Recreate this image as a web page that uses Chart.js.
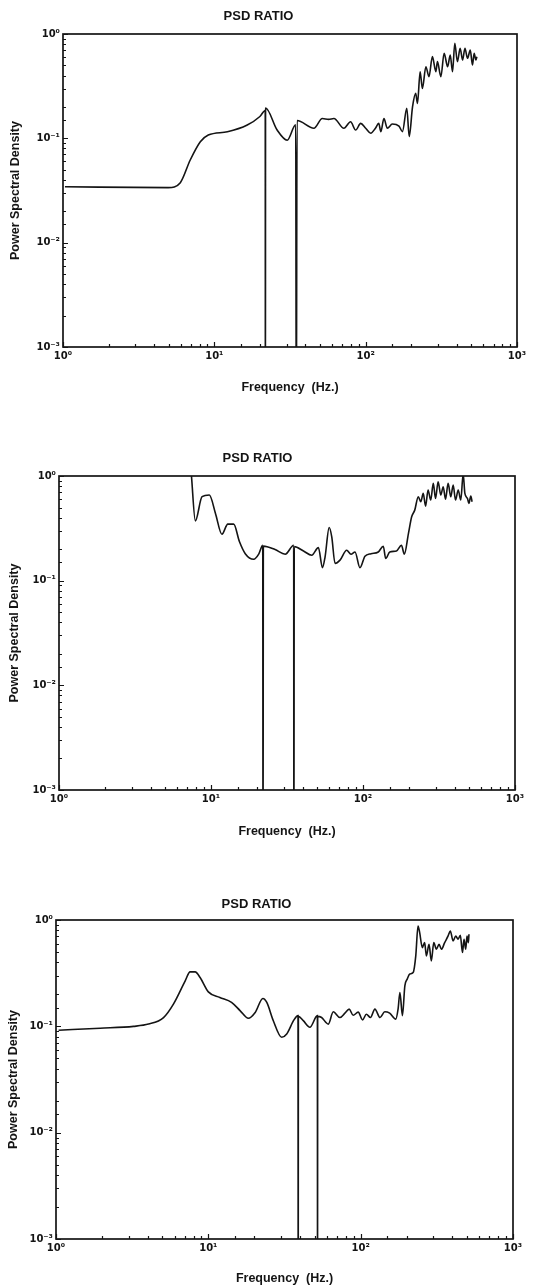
<!DOCTYPE html>
<html>
<head>
<meta charset="utf-8">
<script src="https://cdn.jsdelivr.net/npm/chart.js@4.4.1/dist/chart.umd.min.js"></script>
<style>
  html, body { margin: 0; padding: 0; background: #fff; }
  body { width: 557px; height: 1288px; position: relative; overflow: hidden; }
  canvas { position: absolute; left: 0; }
</style>
</head>
<body>
<canvas id="c1" width="557" height="400" style="top:0px"></canvas>
<canvas id="c2" width="557" height="424" style="top:420px"></canvas>
<canvas id="c3" width="557" height="428" style="top:860px"></canvas>
<script>
// ---------- texts ----------
const chartTitle = 'PSD RATIO';
const xTitle = 'Frequency  (Hz.)';
const yTitle = 'Power Spectral Density';

// ---------- axis ranges & tick labels ----------
const xRange = [1, 1000];
const yRange = [0.001, 1];
const xTickLabels = ['10\u2070', '10\u00b9', '10\u00b2', '10\u00b3'];          // exponents 0..3
const yTickLabels = ['10\u207b\u00b3', '10\u207b\u00b2', '10\u207b\u00b9', '10\u2070']; // exponents -3..0

// ---------- chart 1 data ----------
const freq1 = [1.03, 4.96, 5.96, 6.93, 8.08, 9.12, 12.2, 16.5, 20.0, 21.7, 21.75, 21.8, 26.0, 30.3, 34.5, 34.8, 35.2,
  45.5, 51.7, 56.9, 61.7, 71.8, 79.5, 85.9, 92.7, 100, 108, 116, 122, 126, 132, 139, 150, 166, 175, 187, 194,
  204, 214, 220, 229, 237, 250, 262, 276, 291, 298, 314, 330, 348, 362, 375, 388, 404, 421, 437, 453, 471,
  491, 508, 521, 535, 543];
const psd1 = [0.0343, 0.0337, 0.0376, 0.062, 0.0927, 0.1076, 0.1156, 0.134, 0.162, 0.185, 0.0001, 0.195, 0.12, 0.096, 0.135, 0.0001, 0.148,
  0.125, 0.155, 0.152, 0.155, 0.125, 0.144, 0.12, 0.139, 0.125, 0.112, 0.125, 0.139, 0.116, 0.155, 0.125, 0.137, 0.131, 0.116, 0.194, 0.104,
  0.2, 0.27, 0.216, 0.435, 0.30, 0.486, 0.39, 0.607, 0.435, 0.543, 0.39, 0.653, 0.486, 0.629, 0.435, 0.814, 0.543, 0.729, 0.563, 0.729, 0.585,
  0.70, 0.505, 0.653, 0.563, 0.606];

// ---------- chart 2 data ----------
const freq2 = [7.43, 7.89, 8.73, 9.75, 10.7, 11.8, 12.9, 14.1, 15.4, 16.8, 19.1, 20.6, 21.9, 22.0, 22.1, 26.4, 30.8, 35.0, 35.1, 35.3,
  40.6, 46.0, 50.9, 54.1, 56.3, 59.9, 62.3, 65.5, 70.6, 78.1, 83.4, 88.6, 95.5, 103, 113, 126, 136, 141, 150, 166, 179, 187,
  199, 209, 219, 231, 240, 249, 258, 268, 279, 290, 300, 312, 325, 337, 349, 363, 378, 392, 406, 423, 440, 456, 468, 487,
  497, 512, 522];
const psd2 = [1.02, 0.373, 0.634, 0.658, 0.439, 0.278, 0.347, 0.347, 0.235, 0.181, 0.16, 0.179, 0.218, 0.0001, 0.214, 0.198, 0.179, 0.218, 0.0001, 0.212,
  0.192, 0.175, 0.207, 0.133, 0.169, 0.322, 0.262, 0.146, 0.157, 0.195, 0.179, 0.188, 0.133, 0.171, 0.181, 0.188, 0.213, 0.163, 0.188, 0.192, 0.218, 0.179,
  0.282, 0.408, 0.472, 0.634, 0.568, 0.682, 0.516, 0.734, 0.589, 0.85, 0.61, 0.882, 0.658, 0.79, 0.6, 0.85, 0.634, 0.82, 0.589, 0.734, 0.589, 1.05, 0.682, 0.61,
  0.547, 0.643, 0.568];

// ---------- chart 3 data ----------
const freq3 = [1.04, 1.95, 3.23, 4.05, 5.08, 5.9, 7.05, 7.59, 8.19, 8.83, 10.0, 11.9, 14.2, 16.2, 18.3, 20.3, 22.8, 24.2, 26.7, 30.3,
  32.7, 36.5, 38.8, 38.9, 39.0, 42.0, 46.4, 52.0, 52.1, 52.2, 55.4, 61.3, 66.1, 73.1, 78.8, 84.1, 89.3, 96.3, 103, 109, 116, 124, 134, 144, 155,
  170, 176, 181, 188, 195, 202, 210, 221, 230, 238, 244, 254, 263, 270, 281, 291, 302, 314, 327, 339, 356, 375, 388, 404, 421,
  436, 451, 466, 477, 489, 499, 509, 514];
const psd3 = [0.092, 0.096, 0.1, 0.105, 0.121, 0.162, 0.268, 0.325, 0.325, 0.288, 0.211, 0.187, 0.168, 0.14, 0.119, 0.135, 0.183, 0.168, 0.113, 0.0789,
  0.0848, 0.115, 0.126, 0.0001, 0.124, 0.113, 0.098, 0.126, 0.0001, 0.124, 0.121, 0.105, 0.137, 0.121, 0.133, 0.145, 0.127, 0.136, 0.115, 0.13, 0.121, 0.145, 0.121, 0.137, 0.133,
  0.117, 0.145, 0.208, 0.126, 0.24, 0.278, 0.31, 0.32, 0.46, 0.879, 0.76, 0.55, 0.613, 0.46, 0.59, 0.413, 0.613, 0.531, 0.59, 0.531, 0.613, 0.708, 0.789, 0.636, 0.708,
  0.659, 0.718, 0.494, 0.659, 0.531, 0.708, 0.613, 0.734];

// ---------- helpers ----------
const INK = '#141414';
function expOf(v) { return Math.round(Math.log10(v)); }
function isPow10(v) { const l = Math.log10(v); return Math.abs(l - Math.round(l)) < 1e-6; }

const framePlugin = {
  id: 'frame',
  afterDatasetsDraw(chart) {
    const { ctx, chartArea: a, scales: { x, y } } = chart;
    ctx.save();
    ctx.strokeStyle = INK;
    ctx.lineWidth = 1.7;
    ctx.strokeRect(a.left, a.top, a.right - a.left, a.bottom - a.top);
    ctx.lineWidth = 1.2;
    ctx.beginPath();
    x.ticks.forEach(t => {
      const px = Math.round(x.getPixelForValue(t.value)) + 0.5;
      const len = isPow10(t.value) ? 5 : 3;
      ctx.moveTo(px, a.bottom); ctx.lineTo(px, a.bottom - len);
    });
    y.ticks.forEach(t => {
      const py = Math.round(y.getPixelForValue(t.value)) + 0.5;
      const len = isPow10(t.value) ? 5 : 3;
      ctx.moveTo(a.left, py); ctx.lineTo(a.left + len, py);
    });
    ctx.stroke();
    ctx.restore();
  }
};

function makeChart(id, freqs, vals, g) {
  const canvas = document.getElementById(id);
  const H = canvas.height;
  const titleFont = 13, titleLH = 1.2;
  const tPadTop = g.titleY - titleFont * titleLH / 2;
  const tPadBottom = g.top - tPadTop - titleFont * titleLH;
  const axFont = 12.5, axLH = 1.2;
  return new Chart(canvas, {
    type: 'line',
    data: {
      datasets: [{
        data: freqs.map((f, i) => ({ x: f, y: vals[i] })),
        borderColor: INK,
        borderWidth: 1.6,
        pointRadius: 0,
        cubicInterpolationMode: 'monotone',
        fill: false
      }]
    },
    options: {
      responsive: false,
      animation: false,
      events: [],
      layout: { padding: { left: 0, right: 557 - g.right, top: 0, bottom: 0 } },
      plugins: {
        legend: { display: false },
        tooltip: { enabled: false },
        title: {
          display: true,
          text: chartTitle,
          color: INK,
          font: { family: 'Liberation Sans', size: titleFont, weight: 'bold', lineHeight: titleLH },
          padding: { top: tPadTop, bottom: tPadBottom }
        }
      },
      scales: {
        x: {
          type: 'logarithmic',
          min: xRange[0], max: xRange[1],
          grid: { display: false, drawTicks: false },
          border: { display: false },
          ticks: {
            autoSkip: false, maxRotation: 0, padding: 3,
            color: INK,
            font: { family: 'DejaVu Sans', size: 10, weight: 'bold' },
            callback: v => isPow10(v) ? xTickLabels[expOf(v)] : ''
          },
          title: {
            display: true, text: xTitle, color: INK,
            font: { family: 'Liberation Sans', size: axFont, weight: 'bold', lineHeight: axLH },
            padding: { top: 0, bottom: H - g.xTitleY - axFont * axLH / 2 }
          },
          afterFit: s => { s.height = H - g.bottom; }
        },
        y: {
          type: 'logarithmic',
          min: yRange[0], max: yRange[1],
          grid: { display: false, drawTicks: false },
          border: { display: false },
          ticks: {
            autoSkip: false, padding: 3,
            color: INK,
            font: { family: 'DejaVu Sans', size: 10, weight: 'bold' },
            callback: v => isPow10(v) ? yTickLabels[expOf(v) + 3] : ''
          },
          title: {
            display: true, text: yTitle, color: INK,
            font: { family: 'Liberation Sans', size: axFont, weight: 'bold', lineHeight: axLH },
            padding: { top: g.yTitleX - axFont * axLH / 2, bottom: 0 }
          },
          afterFit: s => { s.width = g.left; }
        }
      }
    },
    plugins: [framePlugin]
  });
}

// geometry relative to each canvas
makeChart('c1', freq1, psd1, { left: 63, right: 517, top: 34, bottom: 347, titleY: 16.7, xTitleY: 388, yTitleX: 16 });
makeChart('c2', freq2, psd2, { left: 59, right: 515, top: 56, bottom: 370, titleY: 38, xTitleY: 412, yTitleX: 15 });
makeChart('c3', freq3, psd3, { left: 56, right: 513, top: 60, bottom: 379, titleY: 44, xTitleY: 419, yTitleX: 14 });
</script>
</body>
</html>
